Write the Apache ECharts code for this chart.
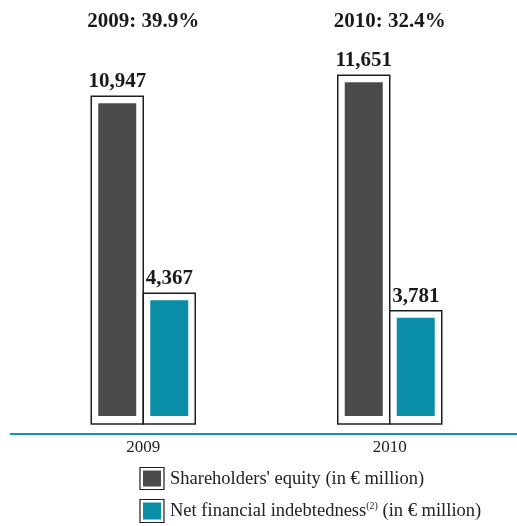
<!DOCTYPE html>
<html>
<head>
<meta charset="utf-8">
<style>
  html, body { margin: 0; padding: 0; background: #fff; }
  #chart { width: 517px; height: 526px; }
</style>
<script src="https://cdn.jsdelivr.net/npm/echarts@6/dist/echarts.min.js"></script>
</head>
<body>
<div id="chart"></div>
<script>
// Years on the category axis
const categories = ['2009', '2010'];
// Gearing ratio headline for each year
const ratioLabels = ['2009: 39.9%', '2010: 32.4%'];
// Shareholders' equity, € million
const equity = [10947, 11651];
// Net financial indebtedness, € million
const netDebt = [4367, 3781];

const SERIF = '"Liberation Serif", "DejaVu Serif", serif';
const DARK = '#4b4b4b';
const TEAL = '#0a8ea7';
const FRAME = '#1e1e1e';
const BAR_W = 52;   // outer frame width of one bar
const INSET = 7;    // gap between frame and filled core

function fmt(v) {
  return v.toLocaleString('en-US');
}

// Framed bar: white box with a dark outline, coloured core inset inside it,
// value printed above. side = -1 draws left of the category centre, +1 right.
function framedBar(color, side) {
  return function (params, api) {
    const cat = api.value(0);
    const val = api.value(1);
    const base = api.coord([cat, 0]);
    const top = api.coord([cat, val]);
    const x0 = side < 0 ? base[0] - BAR_W : base[0];
    const h = base[1] - top[1];
    return {
      type: 'group',
      children: [
        {
          type: 'rect',
          shape: { x: x0, y: top[1], width: BAR_W, height: h },
          style: { fill: '#fff', stroke: FRAME, lineWidth: 1.5 }
        },
        {
          type: 'rect',
          shape: { x: x0 + INSET, y: top[1] + INSET, width: BAR_W - 2 * INSET, height: h - 2 * INSET - 1 },
          style: { fill: color }
        },
        {
          type: 'text',
          style: {
            x: x0 + BAR_W / 2,
            y: top[1] - 4,
            text: fmt(val),
            align: 'center',
            verticalAlign: 'bottom',
            font: 'bold 21px ' + SERIF,
            fill: '#1a1a1a'
          }
        }
      ]
    };
  };
}

const seriesNames = ["Shareholders' equity (in € million)", 'Net financial indebtedness (in € million)'];

const chart = echarts.init(document.getElementById('chart'), null, { renderer: 'canvas' });

chart.setOption({
  backgroundColor: '#fff',
  animation: false,
  grid: { left: 20, right: 4, top: 5, bottom: 102 },
  xAxis: [
    {
      type: 'category',
      data: categories,
      axisLine: { show: false },
      axisTick: { show: false },
      axisLabel: { margin: 15, fontSize: 17, fontFamily: SERIF, color: '#222' }
    },
    {
      type: 'category',
      position: 'top',
      data: ratioLabels,
      axisLine: { show: false },
      axisTick: { show: false },
      axisLabel: { inside: true, margin: 6, fontSize: 21, fontWeight: 'bold', fontFamily: SERIF, color: '#1a1a1a' }
    }
  ],
  yAxis: {
    type: 'value',
    min: 0,
    max: 14000,
    show: false
  },
  series: [
    {
      name: seriesNames[0],
      type: 'custom',
      renderItem: framedBar(DARK, -1),
      data: equity.map((v, i) => [i, v])
    },
    {
      name: seriesNames[1],
      type: 'custom',
      renderItem: framedBar(TEAL, 1),
      data: netDebt.map((v, i) => [i, v])
    }
  ],
  graphic: [
    // baseline rule under the bars
    {
      type: 'line',
      shape: { x1: 10, y1: 434, x2: 517, y2: 434 },
      style: { stroke: '#1596ad', lineWidth: 2 }
    },
    // legend swatches
    { type: 'rect', shape: { x: 140, y: 467.5, width: 24, height: 22 }, style: { fill: '#fff', stroke: FRAME, lineWidth: 1.2 } },
    { type: 'rect', shape: { x: 143, y: 470.5, width: 18, height: 16 }, style: { fill: DARK } },
    { type: 'rect', shape: { x: 140, y: 499.5, width: 24, height: 23 }, style: { fill: '#fff', stroke: FRAME, lineWidth: 1.2 } },
    { type: 'rect', shape: { x: 143, y: 502.5, width: 18, height: 17 }, style: { fill: TEAL } },
    {
      type: 'text',
      style: {
        x: 170, y: 479,
        text: seriesNames[0],
        verticalAlign: 'middle',
        font: '18.5px ' + SERIF,
        fill: '#222'
      }
    },
    {
      type: 'text',
      style: {
        x: 170, y: 511,
        text: '{t|Net financial indebtedness}{s|(2)}{t| (in € million)}',
        verticalAlign: 'middle',
        rich: {
          t: { fontSize: 18.5, fontFamily: SERIF, fill: '#222', color: '#222' },
          s: { fontSize: 10, fontFamily: SERIF, fill: '#222', color: '#222', verticalAlign: 'top', padding: [0, 0, 9, 0] }
        }
      }
    }
  ]
});
</script>
</body>
</html>
